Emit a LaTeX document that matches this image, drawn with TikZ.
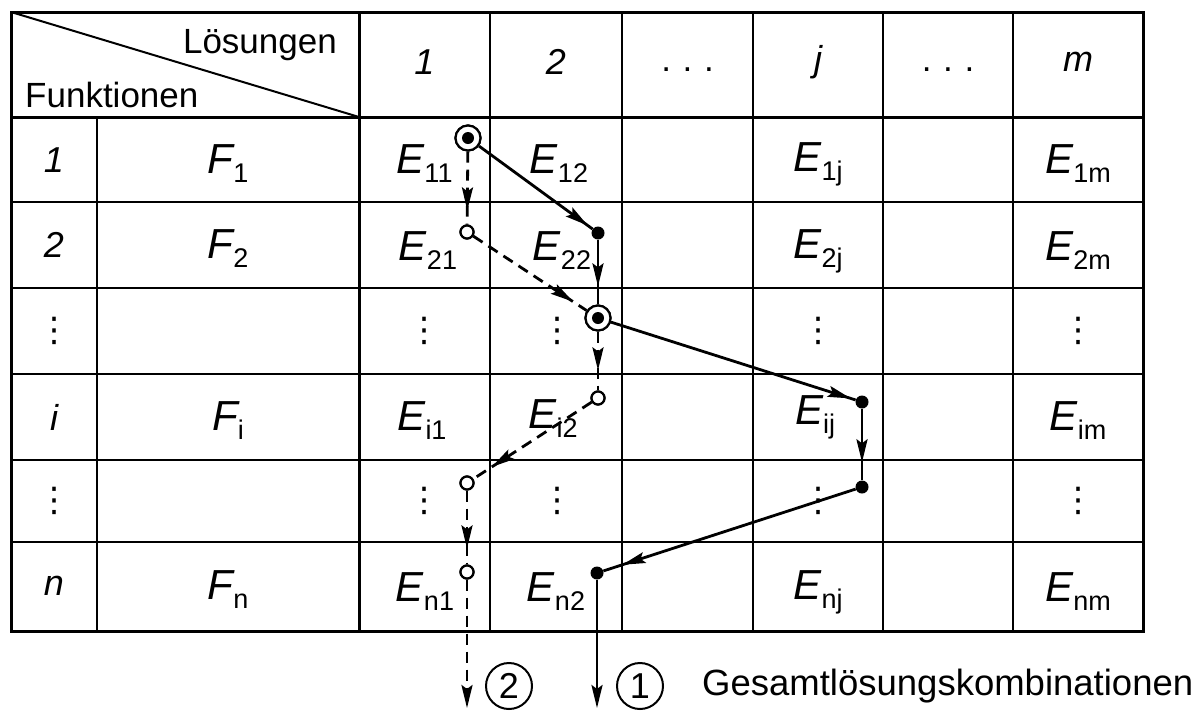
\documentclass[tikz,border=0pt]{standalone}
\usepackage{fontspec}
\setmainfont{Liberation Sans}
\newfontfamily\dvfont{DejaVu Sans}
\usetikzlibrary{arrows.meta,decorations.markings}
\newcommand\EntE[1]{{\fontsize{42}{42}\selectfont\itshape E}\raisebox{-9pt}{\fontsize{27}{27}\selectfont #1}}
\newcommand\EntF[1]{{\fontsize{42}{42}\selectfont\itshape F}\raisebox{-9pt}{\fontsize{27}{27}\selectfont #1}}
\newcommand\VD{{\dvfont\fontsize{34}{34}\selectfont ⋮}}
\tikzset{
  thinline/.style={line width=1.8pt},
  thickline/.style={line width=3pt},
  txt/.style={inner sep=0pt, font=\fontsize{35}{35}\selectfont},
  itxt/.style={inner sep=0pt, font=\fontsize{36}{36}\selectfont\itshape},
  dblmark/.style={circle, draw, line width=2.2pt, minimum size=25pt, inner sep=0pt, fill=white,
    path picture={\fill[black] (path picture bounding box.center) circle (6pt);}},
  fdot/.style={circle, fill, minimum size=13pt, inner sep=0pt},
  odot/.style={circle, draw, fill=white, line width=2.2pt, minimum size=13pt, inner sep=0pt},
  sol/.style={line width=2.8pt},
  dsh/.style={line width=2.8pt, dash pattern=on 11pt off 7pt},
  arr/.style={postaction={decorate}, decoration={markings,
    mark=at position -#1 with {\arrow{Stealth[length=23pt,width=11pt,inset=4pt]}}}},
  endarr/.style={-{Stealth[length=23pt,width=11pt,inset=4pt]}},
  cnum/.style={circle, draw, line width=2pt, minimum size=46pt, inner sep=0pt, font=\fontsize{36}{36}\selectfont},
}
\begin{document}
\begin{tikzpicture}[x=1pt,y=-1pt]
\useasboundingbox[fill=white] (0,0) rectangle (1199,713);
% grid
\foreach \y in {202,288,374,460,542} \draw[thinline] (11,\y) -- (1143,\y);
\foreach \x in {490,622,753,883,1013} \draw[thinline] (\x,12) -- (\x,631);
\draw[thinline] (97,117) -- (97,631);
\draw[thickline] (359,12) -- (359,631);
\draw[thickline] (11,117) -- (1143,117);
\draw[thickline] (11,12) rectangle (1143,631);
\draw[line width=2pt] (11,12) -- (359,117);
% header
\node[txt, anchor=base east] (loes) at (337,53) {Lösungen};
\node[txt, anchor=base west] (funk) at (25,107) {Funktionen};
\node[itxt] (h1) at (424.5,62) {1};
\node[itxt] (h2) at (556,62) {2};
\node[txt] (h3) at (687.5,70) {.\,\,.\,\,.};
\node[itxt] (hj) at (818,62) {j};
\node[txt] (h5) at (948,70) {.\,\,.\,\,.};
\node[itxt] (hm) at (1078,62) {m};
% row labels
\node[itxt] (r1) at (54,160) {1};
\node[itxt] (r2) at (54,245) {2};
\node[inner sep=0pt] (r3) at (54,331) {\VD};
\node[itxt] (ri) at (54,417) {i};
\node[inner sep=0pt] (r5) at (54,501) {\VD};
\node[itxt] (rn) at (54,586) {n};
\node[inner sep=0pt] (f1) at (228,164) {\EntF{1}};
\node[inner sep=0pt] (f2) at (228,249) {\EntF{2}};
\node[inner sep=0pt] (fi) at (228,421) {\EntF{i}};
\node[inner sep=0pt] (fn) at (228,590) {\EntF{n}};
% entries
\node[inner sep=0pt] (e11) at (424.5,164) {\EntE{11}};
\node[inner sep=0pt] (e12) at (559,164) {\EntE{12}};
\node[inner sep=0pt] (e1j) at (818,164) {\EntE{1j}};
\node[inner sep=0pt] (e1m) at (1078,164) {\EntE{1m}};
\node[inner sep=0pt] (e21) at (428,251) {\EntE{21}};
\node[inner sep=0pt] (e22) at (562,251) {\EntE{22}};
\node[inner sep=0pt] (e2j) at (818,251) {\EntE{2j}};
\node[inner sep=0pt] (e2m) at (1078,251) {\EntE{2m}};
\node[inner sep=0pt] (d31) at (424.5,331) {\VD};
\node[inner sep=0pt] (d32) at (557,331) {\VD};
\node[inner sep=0pt] (d3j) at (818,331) {\VD};
\node[inner sep=0pt] (d3m) at (1078,331) {\VD};
\node[inner sep=0pt] (ei1) at (422,421) {\EntE{i1}};
\node[inner sep=0pt] (ei2) at (553,419) {\EntE{i2}};
\node[inner sep=0pt] (eij) at (815,417) {\EntE{ij}};
\node[inner sep=0pt] (eim) at (1078,421) {\EntE{im}};
\node[inner sep=0pt] (d51) at (424.5,501) {\VD};
\node[inner sep=0pt] (d52) at (557,501) {\VD};
\node[inner sep=0pt] (d5j) at (818,501) {\VD};
\node[inner sep=0pt] (d5m) at (1078,501) {\VD};
\node[inner sep=0pt] (en1) at (425,592) {\EntE{n1}};
\node[inner sep=0pt] (en2) at (556,592) {\EntE{n2}};
\node[inner sep=0pt] (enj) at (818,592) {\EntE{nj}};
\node[inner sep=0pt] (enm) at (1078,592) {\EntE{nm}};
% markers
\node[dblmark] (A) at (468,138) {};
\node[odot] (B) at (467,232) {};
\node[fdot] (C) at (598,233) {};
\node[dblmark] (D) at (598,318) {};
\node[odot] (Eo) at (598,398) {};
\node[fdot] (Ff) at (862,402) {};
\node[fdot] (G) at (862,487) {};
\node[odot] (H) at (467,483) {};
\node[odot] (I) at (467,572) {};
\node[fdot] (J) at (597,573) {};
\coordinate (end2) at (467,708);
\coordinate (end1) at (597,708);
% solution path 1 (solid)
\draw[sol, arr=6pt] (A) -- (C);
\draw[sol, arr=18pt] (C) -- (D);
\draw[sol, arr=5pt] (D) -- (Ff);
\draw[sol, arr=18pt] (Ff) -- (G);
\draw[sol, arr=20pt] (G) -- (J);
\draw[sol, endarr] (J) -- (end1);
% solution path 2 (dashed)
\draw[dsh, arr=14pt] (A) -- (B);
\draw[dsh, arr=16pt] (B) -- (D);
\draw[dsh, arr=20pt] (D) -- (Eo);
\draw[dsh, arr=22pt] (Eo) -- (H);
\draw[dsh, arr=16pt] (H) -- (I);
\draw[dsh, endarr] (I) -- (end2);
% redraw markers on top
\node[dblmark] at (A) {};
\node[dblmark] at (D) {};
\node[odot] at (B) {};
\node[odot] at (Eo) {};
\node[odot] at (H) {};
\node[odot] at (I) {};
% legend
\node[cnum] (c2) at (509,686) {2};
\node[cnum] (c1) at (640,686) {1};
\node[txt, anchor=west, font=\fontsize{36.5}{36.5}\selectfont] (ges) at (702,686) {Gesamtlösungskombinationen};
\end{tikzpicture}
\end{document}
